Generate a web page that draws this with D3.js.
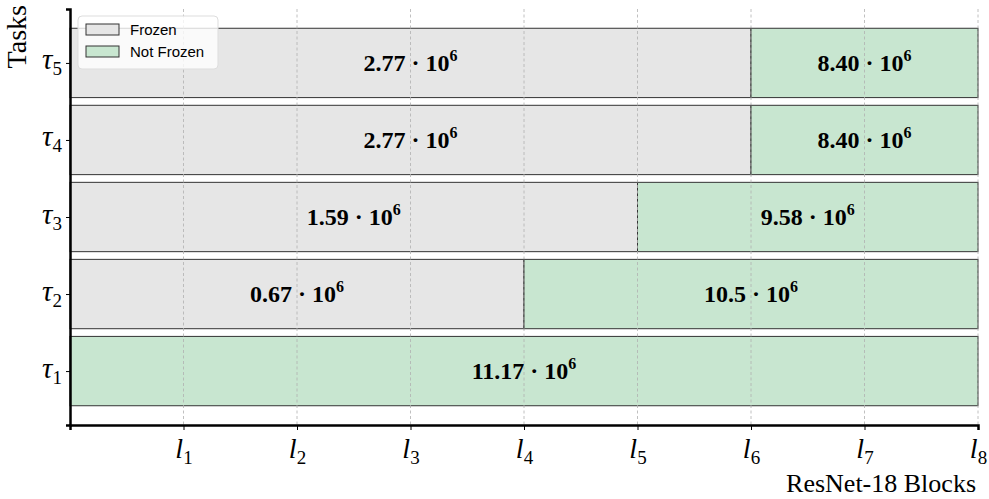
<!DOCTYPE html>
<html>
<head>
<meta charset="utf-8">
<script src="https://cdn.jsdelivr.net/npm/d3@7"></script>
<style>
  body { margin: 0; background: #fff; }
  #chart { width: 989px; height: 499px; }
</style>
</head>
<body>
<div id="chart"></div>
<script>
const width = 989;
const height = 499;

// data
const tasks = ["1", "2", "3", "4", "5"];
const frozenEnd = [0, 4, 5, 6, 6];
const totalBlocks = 8;
const frozenLabels = [null, "0.67", "1.59", "2.77", "2.77"];
const notFrozenLabels = ["11.17", "10.5", "9.58", "8.40", "8.40"];
const xTicks = [1, 2, 3, 4, 5, 6, 7, 8];

const frozenColor = "#e6e6e6";
const notFrozenColor = "#c8e6d0";
const serif = "'Liberation Serif', 'DejaVu Serif', serif";

const margin = { left: 70, right: 11, top: 9, bottom: 74 };

const svg = d3.select("#chart")
    .append("svg")
    .attr("width", width)
    .attr("height", height);

const x = d3.scaleLinear()
    .domain([0, totalBlocks])
    .range([margin.left, width - margin.right]);

const y = d3.scaleLinear()
    .domain([-0.7, 4.7])
    .range([height - margin.bottom, margin.top]);

const barH = y(0) - y(0.9);

const rows = tasks.map((t, i) => ({
    task: t,
    i: i,
    frozen: frozenEnd[i],
    fLabel: frozenLabels[i],
    nLabel: notFrozenLabels[i]
}));

// bars
const bars = svg.append("g");

bars.selectAll("rect.frozen")
    .data(rows.filter(d => d.frozen > 0))
    .join("rect")
    .attr("x", d => x(0))
    .attr("y", d => y(d.i) - barH / 2)
    .attr("width", d => x(d.frozen) - x(0))
    .attr("height", barH)
    .attr("fill", frozenColor)
    .attr("stroke", "#333")
    .attr("stroke-width", 1);

bars.selectAll("rect.notfrozen")
    .data(rows)
    .join("rect")
    .attr("x", d => x(d.frozen))
    .attr("y", d => y(d.i) - barH / 2)
    .attr("width", d => x(totalBlocks) - x(d.frozen))
    .attr("height", barH)
    .attr("fill", notFrozenColor)
    .attr("stroke", "#333")
    .attr("stroke-width", 1);

// grid
svg.append("g")
    .selectAll("line")
    .data(xTicks)
    .join("line")
    .attr("x1", d => x(d))
    .attr("x2", d => x(d))
    .attr("y1", y.range()[1])
    .attr("y2", y.range()[0])
    .attr("stroke", "#b0b0b0")
    .attr("stroke-width", 0.8)
    .attr("stroke-dasharray", "3,2.5");

// bar labels
function sciLabel(sel, mant) {
    sel.append("tspan").text(mant + " · 10");
    sel.append("tspan")
        .attr("font-size", 16)
        .attr("dy", -10)
        .text("6");
}

const labels = [];
rows.forEach(d => {
    if (d.fLabel) labels.push({ i: d.i, cx: d.frozen / 2, text: d.fLabel });
    labels.push({ i: d.i, cx: (d.frozen + totalBlocks) / 2, text: d.nLabel });
});

svg.append("g")
    .selectAll("text")
    .data(labels)
    .join("text")
    .attr("x", d => x(d.cx))
    .attr("y", d => y(d.i) + 8)
    .attr("text-anchor", "middle")
    .attr("font-family", serif)
    .attr("font-weight", "bold")
    .attr("font-size", 24)
    .each(function (d) { sciLabel(d3.select(this), d.text); });

// axes
const xAxis = svg.append("g")
    .attr("transform", `translate(0,${y.range()[0]})`)
    .call(d3.axisBottom(x).tickValues(xTicks).tickSize(5).tickFormat(""));
xAxis.select(".domain").attr("stroke", "#000").attr("stroke-width", 2.5);
xAxis.selectAll(".tick line").attr("stroke", "#000").attr("stroke-width", 1);

xAxis.selectAll(".tick")
    .append("text")
    .attr("y", 33)
    .attr("fill", "#000")
    .attr("text-anchor", "middle")
    .attr("font-family", serif)
    .attr("font-size", 28)
    .each(function (d) {
        const t = d3.select(this);
        t.append("tspan").attr("font-style", "italic").text("l");
        t.append("tspan").attr("font-size", 19).attr("dy", 6).text(d);
    });

const yAxis = svg.append("g")
    .attr("transform", `translate(${x(0)},0)`)
    .call(d3.axisLeft(y).tickValues(rows.map(d => d.i)).tickSize(4).tickFormat(""));
yAxis.select(".domain").attr("stroke", "#000").attr("stroke-width", 2.5);
yAxis.selectAll(".tick line").attr("stroke", "#000").attr("stroke-width", 1);

yAxis.selectAll(".tick")
    .append("text")
    .attr("x", -8)
    .attr("y", 6)
    .attr("fill", "#000")
    .attr("text-anchor", "end")
    .attr("font-family", serif)
    .attr("font-size", 29)
    .each(function (d) {
        const t = d3.select(this);
        t.append("tspan").attr("font-style", "italic").text("τ");
        t.append("tspan").attr("font-size", 19).attr("dy", 6).text(tasks[d]);
    });

// axis titles
svg.append("text")
    .attr("transform", `translate(26,5) rotate(-90)`)
    .attr("text-anchor", "end")
    .attr("font-family", serif)
    .attr("font-size", 28)
    .text("Tasks");

svg.append("text")
    .attr("x", x(totalBlocks) - 2)
    .attr("y", 492)
    .attr("text-anchor", "end")
    .attr("font-family", serif)
    .attr("font-size", 26)
    .text("ResNet-18 Blocks");

// legend
const legend = svg.append("g").attr("transform", "translate(78,16)");
legend.append("rect")
    .attr("width", 140)
    .attr("height", 53)
    .attr("rx", 4)
    .attr("fill", "#fff")
    .attr("fill-opacity", 0.8)
    .attr("stroke", "#ddd");

const legendItems = [
    { label: "Frozen", color: frozenColor },
    { label: "Not Frozen", color: notFrozenColor }
];
const li = legend.selectAll("g.item")
    .data(legendItems)
    .join("g")
    .attr("transform", (d, i) => `translate(8,${8 + i * 22})`);
li.append("rect")
    .attr("width", 33)
    .attr("height", 11)
    .attr("fill", d => d.color)
    .attr("stroke", "#333")
    .attr("stroke-width", 1);
li.append("text")
    .attr("x", 44)
    .attr("y", 11)
    .attr("font-family", "'Liberation Sans', Arial, sans-serif")
    .attr("font-size", 15)
    .text(d => d.label);
</script>
</body>
</html>
